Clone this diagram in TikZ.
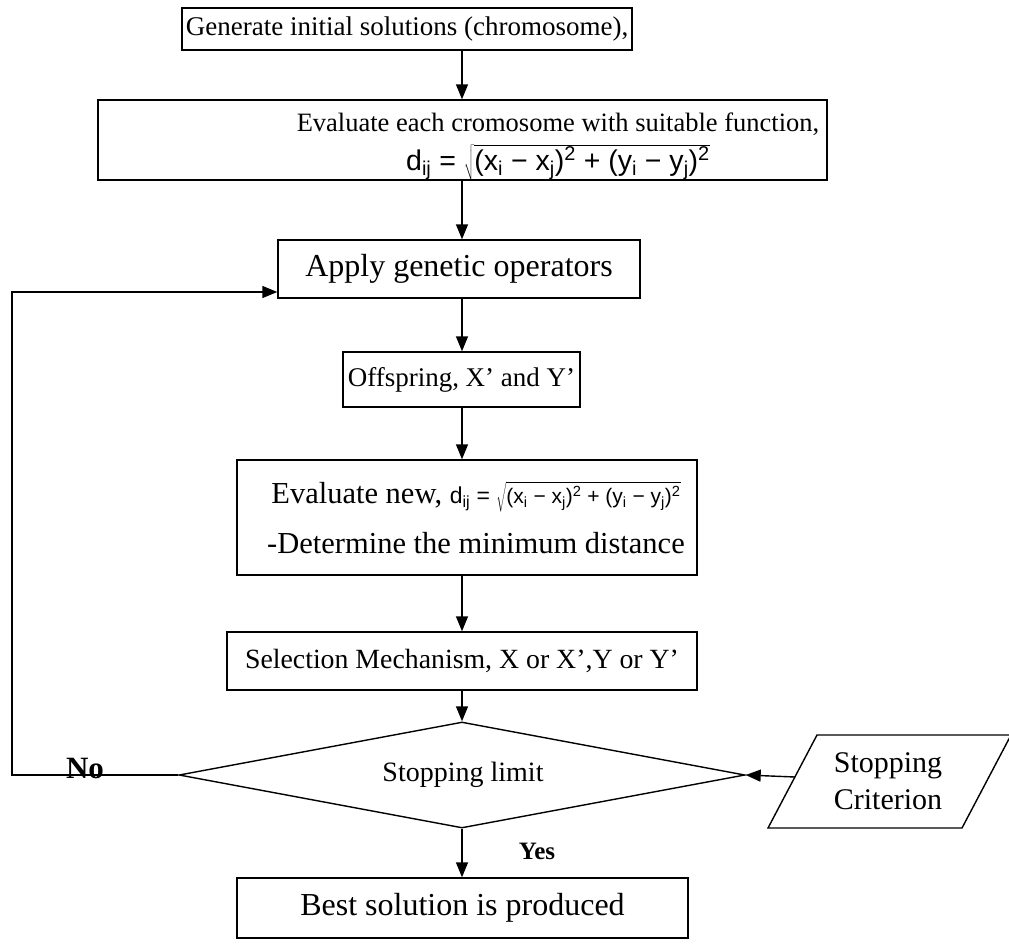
\documentclass[tikz,border=0pt]{standalone}
\usepackage{fix-cm}
\usepackage{fontspec}
\setmainfont{Liberation Serif}
\newfontfamily\fsans{Liberation Sans}
\usetikzlibrary{arrows.meta,shapes.geometric}
\tikzset{
  box/.style={draw, line width=1.4pt, inner sep=0pt, align=center},
  conn/.style={line width=1.4pt, -{Triangle[length=15pt,width=12pt]}},
  lbl/.style={inner sep=0pt}
}
\newcommand{\formA}{{\fsans\fontsize{28.5}{32}\selectfont d\textsubscript{ij} = $\sqrt{\hbox{\fsans\fontsize{28.5}{32}\selectfont(x\textsubscript{i} − x\textsubscript{j})\textsuperscript{2} + (y\textsubscript{i} − y\textsubscript{j})\textsuperscript{2}}}$}}
\newcommand{\formB}{{\fsans\fontsize{23}{26}\selectfont d\textsubscript{ij} = $\sqrt{\hbox{\fsans\fontsize{21}{24}\selectfont(x\textsubscript{i} − x\textsubscript{j})\textsuperscript{2} + (y\textsubscript{i} − y\textsubscript{j})\textsuperscript{2}}}$}}
\begin{document}
\begin{tikzpicture}[x=1pt,y=-1pt,font=\fontsize{27}{34}\selectfont]
\useasboundingbox (0,0) rectangle (1009,948);
\node[box, minimum width=450pt, minimum height=42pt] (b1) at (407,29) {Generate initial solutions (chromosome),};
\node[box, minimum width=729pt, minimum height=80pt] (b2) at (462.5,140) {};
\node[lbl, align=center, font=\fontsize{26.5}{36}\selectfont] (b2t) at (558,147) {Evaluate each cromosome with suitable function,\\[3pt] \formA};
\node[box, minimum width=362pt, minimum height=58pt, font=\fontsize{32}{36}\selectfont] (b3) at (459,269) {Apply genetic operators};
\node[box, minimum width=237pt, minimum height=55pt] (b4) at (461.5,379.5) {Offspring, X’ and Y’};
\node[box, minimum width=460pt, minimum height=115pt] (b5) at (467,517.5) {};
\node[lbl, align=center, font=\fontsize{30.5}{36}\selectfont] (b5t) at (476,518) {Evaluate new, \formB\\[14pt] -Determine the minimum distance};
\node[box, minimum width=470pt, minimum height=58pt, font=\fontsize{27.8}{34}\selectfont] (b6) at (462,661) {Selection Mechanism, X or X’,Y or Y’};
\node[draw, line width=1.4pt, diamond, aspect=5.34, inner sep=0pt, minimum width=566pt, minimum height=106pt] (d) at (462,775) {};
\node[font=\fontsize{28}{34}\selectfont] (dt) at (463,775) {Stopping limit};
\draw[line width=1.4pt] (768,828) -- (817,735) -- (1011,735) -- (962,828) -- cycle;
\node[align=center, font=\fontsize{30}{37}\selectfont] (crit) at (888,781) {Stopping\\Criterion};
\coordinate (critL) at (795,777);
\node[box, minimum width=451pt, minimum height=60pt, font=\fontsize{32}{36}\selectfont] (b7) at (462.5,908) {Best solution is produced};
\coordinate (loopA) at (12,775);
\coordinate (loopB) at (12,292);
\draw[conn] (b1.south -| 462,0) -- (b2.north -| 462,0);
\draw[conn] (b2.south -| 462,0) -- (b3.north -| 462,0);
\draw[conn] (b3.south -| 462,0) -- (b4.north -| 462,0);
\draw[conn] (b4.south -| 462,0) -- (b5.north -| 462,0);
\draw[conn] (b5.south -| 462,0) -- (b6.north -| 462,0);
\draw[conn] (b6.south -| 462,0) -- (d.north);
\draw[conn] (d.south) -- (b7.north -| 462,0);
\draw[conn] (critL) -- (d.east);
\draw[conn] (d.west) -- (loopA) -- (loopB) -- (b3.west |- loopB);
\node[lbl, font=\fontsize{31}{34}\selectfont\bfseries] (no) at (85,768) {No};
\node[lbl, font=\fontsize{25}{28}\selectfont\bfseries] (yes) at (537,851) {Yes};
\end{tikzpicture}
\end{document}
